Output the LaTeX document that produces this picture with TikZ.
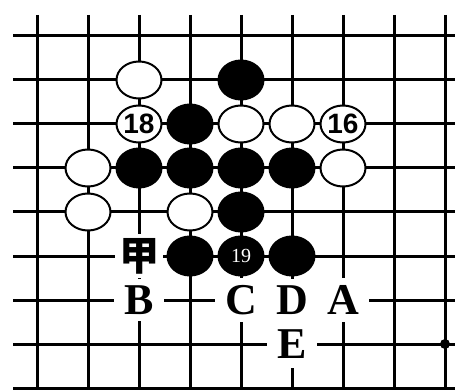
\documentclass[tikz,border=0pt]{standalone}
\usepackage{fontspec}
\setmainfont{Liberation Serif}
\newfontfamily\numfont{Liberation Sans}
\newfontfamily\cjk{Noto Sans CJK SC}
\usetikzlibrary{shapes}

\tikzset{
  white stone/.style={ellipse,draw,line width=2pt,fill=white,minimum width=45pt,minimum height=37pt,inner sep=0pt},
  black stone/.style={ellipse,fill=black,minimum width=47pt,minimum height=41pt,inner sep=0pt},
  movenum/.style={font=\numfont\bfseries\fontsize{28}{28}\selectfont},
  pointlabel/.style={fill=white,inner xsep=10pt,inner ysep=7pt,font=\bfseries\fontsize{44}{44}\selectfont}
}

\begin{document}
\begin{tikzpicture}[x=51pt,y=-44pt]
  \useasboundingbox (-0.7255,-0.8182) rectangle (8.196,8.045);
  \foreach \r in {0,...,8}
    \draw[line width=3pt] (-0.47,\r) -- (8.3,\r);
  \foreach \c in {0,...,8}
    \draw[line width=3pt] (\c,-0.48) -- (\c,8.1);
  \fill (8,7) circle (5pt);
  \foreach \c/\r in {2/1,4/2,5/2,1/3,6/3,1/4,3/4}
    \node[white stone] (w\c\r) at (\c,\r) {};
  \foreach \c/\r in {4/1,3/2,2/3,3/3,4/3,5/3,4/4,3/5,5/5}
    \node[black stone] (b\c\r) at (\c,\r) {};
  \node[white stone,movenum] (w18) at (2,2) {18};
  \node[white stone,movenum] (w16) at (6,2) {16};
  \node[black stone,text=white,font=\fontsize{20}{20}\selectfont] (b19) at (4,5) {19};
  \node[fill=white,inner sep=4pt,font=\cjk\bfseries\fontsize{40}{40}\selectfont] (jia) at (2,5) {甲};
  \node[pointlabel] (pB) at (2,6) {B};
  \node[pointlabel] (pC) at (4,6) {C};
  \node[pointlabel] (pD) at (5,6) {D};
  \node[pointlabel] (pA) at (6,6) {A};
  \node[pointlabel,inner ysep=10pt] (pE) at (5,7) {E};
\end{tikzpicture}
\end{document}
